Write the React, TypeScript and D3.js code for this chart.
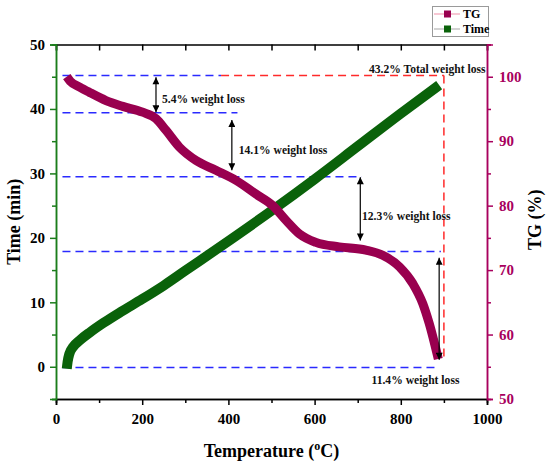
import React, { useRef, useEffect } from "react";
import * as d3 from "d3";

// TG curve (temperature °C, mass %)
const tgTemp = [25, 33, 55, 77, 116, 155, 201, 232, 255, 286, 325, 371, 418, 464, 503, 534, 565, 603, 657, 719, 758, 797, 828, 851, 866, 887];
const tgValue = [100.0, 99.3, 98.4, 97.6, 96.3, 95.4, 94.5, 93.5, 91.7, 89.1, 87.0, 85.5, 83.9, 81.8, 80.0, 77.7, 75.6, 74.3, 73.6, 73.1, 72.3, 70.5, 67.9, 64.8, 61.7, 56.2];

// Time curve (temperature °C, minutes)
const timeTemp = [25, 27, 31, 40, 55, 80, 110, 150, 200, 250, 300, 400, 500, 600, 700, 800, 889];
const timeValue = [-0.3, 0.8, 2.0, 3.1, 4.1, 5.4, 6.8, 8.5, 10.5, 12.6, 14.9, 19.5, 24.2, 29.1, 34.2, 39.3, 43.7];

const xTicks = [0, 200, 400, 600, 800, 1000];
const xMinor = [100, 300, 500, 700, 900];
const timeTicks = [0, 10, 20, 30, 40, 50];
const timeMinor = [-5, 5, 15, 25, 35, 45];
const tgTicks = [50, 60, 70, 80, 90, 100];
const tgMinor = [55, 65, 75, 85, 95, 105];

// blue guide levels (TG %) and how far right they run (°C)
const guideLevel = [100.2, 94.4, 84.5, 72.9, 54.9];
const guideEnd = [383, 421, 709, 893, 887];

// double arrows: temperature, from TG, to TG
const arrowTemp = [232, 408, 706, 889];
const arrowFrom = [99.9, 93.3, 84.4, 71.9];
const arrowTo = [94.5, 85.5, 74.6, 56.1];

const noteText = ["5.4% weight loss", "14.1% weight loss", "12.3% weight loss", "11.4% weight loss", "43.2% Total weight loss"];
const noteTemp = [246, 424, 710, 732, 726];
const noteTG = [96.0, 88.0, 77.8, 52.3, 100.6];

const totalTemp = 900;

const TG_COLOR = "#99004f";
const TG_AXIS = "#a8005e";
const TIME_COLOR = "#0a620a";
const TIME_AXIS = "#1b7d1b";
const FONT = "'Liberation Serif', 'Times New Roman', serif";

export default function App() {
    const svgRef = useRef<SVGSVGElement | null>(null);

    useEffect(() => {
        if (!svgRef.current) return;
        const svg = d3.select(svgRef.current);
        svg.selectAll("*").remove();

        const left = 56, right = 487, top = 44.5, bottom = 399;

        const x = d3.scaleLinear().domain([0, 1000]).range([left, right]);
        const yTime = d3.scaleLinear().domain([-5, 50]).range([bottom, top]);
        const yTG = d3.scaleLinear().domain([50, 105]).range([bottom, top]);

        const defs = svg.append("defs");
        defs.append("marker")
            .attr("id", "ah")
            .attr("viewBox", "0 0 10 10")
            .attr("refX", 10)
            .attr("refY", 5)
            .attr("markerWidth", 9)
            .attr("markerHeight", 7)
            .attr("markerUnits", "userSpaceOnUse")
            .attr("orient", "auto-start-reverse")
            .append("path")
            .attr("d", "M0,0 L10,5 L0,10 Z")
            .attr("fill", "#000");

        // guide lines
        guideLevel.forEach((lv, i) => {
            svg.append("line")
                .attr("x1", x(15)).attr("x2", x(guideEnd[i]))
                .attr("y1", yTG(lv)).attr("y2", yTG(lv))
                .attr("stroke", "#2a2aff")
                .attr("stroke-width", 1.5)
                .attr("stroke-dasharray", "8,5");
        });
        svg.append("line")
            .attr("x1", x(guideEnd[0])).attr("x2", x(totalTemp))
            .attr("y1", yTG(guideLevel[0])).attr("y2", yTG(guideLevel[0]))
            .attr("stroke", "#ff2a2a")
            .attr("stroke-width", 1.5)
            .attr("stroke-dasharray", "8,5");
        svg.append("line")
            .attr("x1", x(totalTemp)).attr("x2", x(totalTemp))
            .attr("y1", yTG(guideLevel[0])).attr("y2", yTG(55.9))
            .attr("stroke", "#ff2a2a")
            .attr("stroke-width", 1.5)
            .attr("stroke-dasharray", "8,5");

        // curves
        const timePts = timeTemp.map((t, i) => [t, timeValue[i]] as [number, number]);
        const tgPts = tgTemp.map((t, i) => [t, tgValue[i]] as [number, number]);

        svg.append("path")
            .attr("d", d3.line<[number, number]>().curve(d3.curveMonotoneX)
                .x((d) => x(d[0])).y((d) => yTime(d[1]))(timePts))
            .attr("fill", "none")
            .attr("stroke", TIME_COLOR)
            .attr("stroke-width", 10)
            .attr("stroke-linejoin", "round");

        svg.append("path")
            .attr("d", d3.line<[number, number]>().curve(d3.curveMonotoneX)
                .x((d) => x(d[0])).y((d) => yTG(d[1]))(tgPts))
            .attr("fill", "none")
            .attr("stroke", TG_COLOR)
            .attr("stroke-width", 9)
            .attr("stroke-linejoin", "round");

        // arrows
        arrowTemp.forEach((t, i) => {
            svg.append("line")
                .attr("x1", x(t)).attr("x2", x(t))
                .attr("y1", yTG(arrowFrom[i])).attr("y2", yTG(arrowTo[i]))
                .attr("stroke", "#000")
                .attr("stroke-width", 1.2)
                .attr("marker-start", "url(#ah)")
                .attr("marker-end", "url(#ah)");
        });

        // annotations
        noteText.forEach((txt, i) => {
            svg.append("text")
                .attr("x", x(noteTemp[i]))
                .attr("y", yTG(noteTG[i]))
                .attr("font-family", FONT)
                .attr("font-weight", "bold")
                .attr("font-size", 11.6)
                .attr("fill", "#111")
                .text(txt);
        });

        const styleAxis = (g: any, color: string, labelColor: string) => {
            g.select(".domain").attr("stroke", color).attr("stroke-width", 1.5);
            g.selectAll(".tick line").attr("stroke", color).attr("stroke-width", 1.5);
            g.selectAll("text")
                .attr("font-family", FONT)
                .attr("font-weight", "bold")
                .attr("font-size", 15)
                .attr("fill", labelColor);
        };

        // bottom
        svg.append("g")
            .attr("transform", `translate(0,${bottom})`)
            .call(d3.axisBottom(x).tickValues(xMinor).tickSize(4).tickFormat(() => ""))
            .call((g: any) => styleAxis(g, "#000", "#000"));
        svg.append("g")
            .attr("transform", `translate(0,${bottom})`)
            .call(d3.axisBottom(x).tickValues(xTicks).tickSize(6).tickPadding(8).tickFormat(d3.format("d")))
            .call((g: any) => styleAxis(g, "#000", "#000"));

        // top
        svg.append("g")
            .attr("transform", `translate(0,${top})`)
            .call(d3.axisTop(x).tickValues([...xTicks, ...xMinor]).tickSize(-6).tickFormat(() => ""))
            .call((g: any) => styleAxis(g, "#000", "#000"));

        // left (time)
        svg.append("g")
            .attr("transform", `translate(${left},0)`)
            .call(d3.axisLeft(yTime).tickValues(timeMinor).tickSize(4).tickFormat(() => ""))
            .call((g: any) => styleAxis(g, TIME_AXIS, "#000"));
        svg.append("g")
            .attr("transform", `translate(${left},0)`)
            .call(d3.axisLeft(yTime).tickValues(timeTicks).tickSize(6).tickPadding(5).tickFormat(d3.format("d")))
            .call((g: any) => styleAxis(g, TIME_AXIS, "#000"));

        // right (TG)
        svg.append("g")
            .attr("transform", `translate(${right},0)`)
            .call(d3.axisRight(yTG).tickValues(tgMinor).tickSize(4).tickFormat(() => ""))
            .call((g: any) => styleAxis(g, TG_AXIS, TG_AXIS));
        svg.append("g")
            .attr("transform", `translate(${right},0)`)
            .call(d3.axisRight(yTG).tickValues(tgTicks).tickSize(6).tickPadding(6).tickFormat(d3.format("d")))
            .call((g: any) => styleAxis(g, TG_AXIS, TG_AXIS));

        // axis titles
        const xTitle = svg.append("text")
            .attr("x", (left + right) / 2)
            .attr("y", 457)
            .attr("text-anchor", "middle")
            .attr("font-family", FONT)
            .attr("font-weight", "bold")
            .attr("font-size", 18)
            .attr("fill", "#000");
        xTitle.append("tspan").text("Temperature (");
        xTitle.append("tspan").attr("font-size", 12).attr("dy", -7).text("o");
        xTitle.append("tspan").attr("dy", 7).text("C)");

        svg.append("text")
            .attr("transform", `translate(20,${(top + bottom) / 2}) rotate(-90)`)
            .attr("text-anchor", "middle")
            .attr("font-family", FONT)
            .attr("font-weight", "bold")
            .attr("font-size", 18)
            .attr("fill", "#000")
            .text("Time (min)");

        svg.append("text")
            .attr("transform", `translate(541,${(top + bottom) / 2 - 2}) rotate(-90)`)
            .attr("text-anchor", "middle")
            .attr("font-family", FONT)
            .attr("font-weight", "bold")
            .attr("font-size", 18)
            .attr("fill", "#000")
            .text("TG (%)");

        // legend
        const lg = svg.append("g");
        lg.append("rect")
            .attr("x", 432.5).attr("y", 6.5)
            .attr("width", 56).attr("height", 30)
            .attr("fill", "#fff")
            .attr("stroke", "#9a9a9a");
        [
            { label: "TG", line: "#f4b4c4", mark: TG_COLOR, y: 14 },
            { label: "Time", line: "#c4c4c4", mark: TIME_COLOR, y: 29 },
        ].forEach((it) => {
            lg.append("line")
                .attr("x1", 434).attr("x2", 460)
                .attr("y1", it.y).attr("y2", it.y)
                .attr("stroke", it.line).attr("stroke-width", 1.5);
            lg.append("rect")
                .attr("x", 444).attr("y", it.y - 3.5)
                .attr("width", 7).attr("height", 7)
                .attr("fill", it.mark);
            lg.append("text")
                .attr("x", 463).attr("y", it.y + 4)
                .attr("font-family", FONT)
                .attr("font-weight", "bold")
                .attr("font-size", 12)
                .attr("fill", "#000")
                .text(it.label);
        });
    }, []);

    return (
        <svg
            ref={svgRef}
            width={550}
            height={464}
            style={{ position: "absolute", left: 0, top: 0, background: "#fff" }}
        ></svg>
    );
}
